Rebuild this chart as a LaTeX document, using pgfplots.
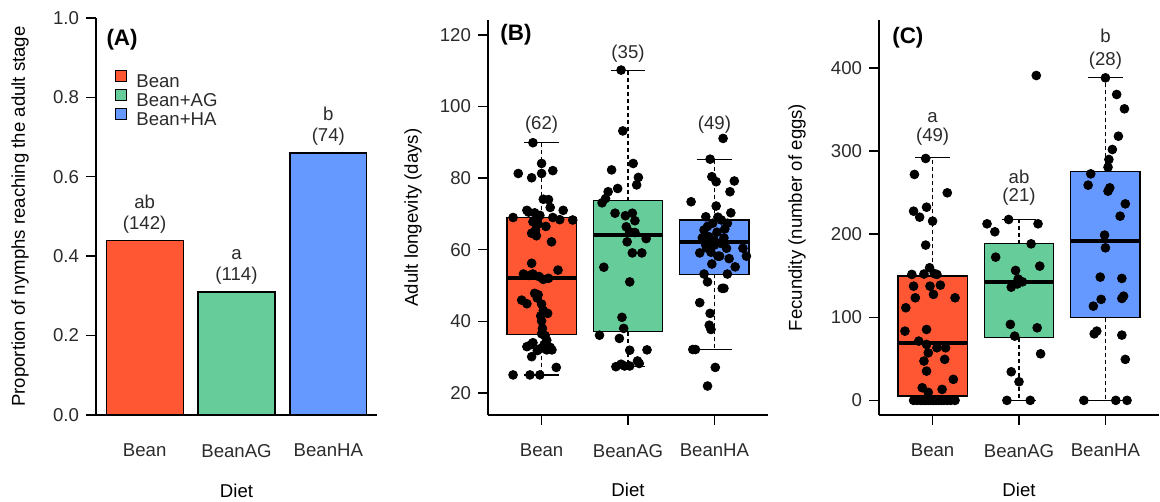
\documentclass[border=0pt]{standalone}
\usepackage{fontspec}
\setmainfont{Liberation Sans}
\usepackage{pgfplots}
\pgfplotsset{compat=1.18}
\usepgfplotslibrary{statistics}
\definecolor{cBean}{HTML}{FF5733}
\definecolor{cAG}{HTML}{66CC99}
\definecolor{cHA}{HTML}{6699FF}
\definecolor{txt}{HTML}{2B2B2B}
\pgfplotsset{
  rpanel/.style={
    scale only axis, width=140pt,
    axis x line=bottom, axis y line=left,
    axis line style={-, line width=0.7pt, black},
    tick align=outside, major tick length=5pt,
    every tick/.style={black, line width=0.7pt},
    font=\fontsize{9.3}{11}\selectfont,
    /pgf/number format/assume math mode=true,
    tick label style={text=txt},
    label style={text=txt},
    xmin=0.38, xmax=3.62,
    xtick={1,2,3}, xticklabels={Bean,BeanAG,BeanHA},
    xticklabel style={yshift=-6pt},
    xlabel={Diet},
    every axis x label/.style={at={(axis description cs:0.5,-0.19)}, anchor=center},
    clip=false,
    enlargelimits=false,
    boxplot/draw direction=y,
    boxplot/box extend=0.8,
    boxplot/whisker extend=0.4,
    boxplot/every median/.style={line width=2pt},
    boxplot/draw/lower whisker/.code={
      \draw[dash pattern=on 2pt off 1.5pt] (boxplot box cs:\pgfplotsboxplotvalue{lower quartile},0.5) -- (boxplot box cs:\pgfplotsboxplotvalue{lower whisker},0.5);
      \draw[solid] (boxplot whisker cs:\pgfplotsboxplotvalue{lower whisker},0) -- (boxplot whisker cs:\pgfplotsboxplotvalue{lower whisker},1);
    },
    boxplot/draw/upper whisker/.code={
      \draw[dash pattern=on 2pt off 1.5pt] (boxplot box cs:\pgfplotsboxplotvalue{upper quartile},0.5) -- (boxplot box cs:\pgfplotsboxplotvalue{upper whisker},0.5);
      \draw[solid] (boxplot whisker cs:\pgfplotsboxplotvalue{upper whisker},0) -- (boxplot whisker cs:\pgfplotsboxplotvalue{upper whisker},1);
    },
  },
  pts/.style={only marks, mark=*, mark size=2.2pt, mark options={fill=black, draw=black}},
  sq/.style={legend image code/.code={\draw[##1,draw=black,line width=0.5pt] (0pt,0.5pt) rectangle (5.5pt,6pt);}},
}
\begin{document}
\begin{tikzpicture}
\path[use as bounding box] (0,0) rectangle (580pt,251pt);

% ---------------- Panel A ----------------
\begin{axis}[rpanel, at={(48pt,43.5pt)}, anchor=south west,
  width=140.5pt, height=198.5pt,
  xmin=0.47, xmax=3.53, ymin=0, ymax=1,
  ytick={0,0.2,0.4,0.6,0.8,1},
  yticklabel style={/pgf/number format/.cd, fixed, fixed zerofill, precision=1},
  xtick style={draw=none},
  ylabel={Proportion of nymphs reaching the adult stage},
  every axis y label/.style={at={(axis description cs:-0.27,0.5)}, rotate=90, anchor=center},
  legend style={draw=none, fill=none, inner sep=0pt, at={(0.0676,0.8697)}, anchor=north west,
    row sep=-1.5pt,
    nodes={inner sep=0.5pt, text height=6.7pt, text depth=1.55pt, text=txt},
    /tikz/every odd column/.append style={column sep=4pt}},
  legend cell align=left]
\addplot[ybar, bar width=0.837, bar shift=0pt, fill=cBean, draw=black, line width=0.6pt, sq] coordinates {(1,0.44)};
\addlegendentry{Bean}
\addplot[ybar, bar width=0.837, bar shift=0pt, fill=cAG, draw=black, line width=0.6pt, sq] coordinates {(2,0.31)};
\addlegendentry{Bean+AG}
\addplot[ybar, bar width=0.837, bar shift=0pt, fill=cHA, draw=black, line width=0.6pt, sq] coordinates {(3,0.66)};
\addlegendentry{Bean+HA}
\node[anchor=base, yshift=5.5pt, text=txt] at (axis cs:1,0.44) {(142)};
\node[anchor=base, yshift=16pt, text=txt] at (axis cs:1,0.44) {ab};
\node[anchor=base, yshift=5.5pt, text=txt] at (axis cs:2,0.31) {(114)};
\node[anchor=base, yshift=16pt, text=txt] at (axis cs:2,0.31) {a};
\node[anchor=base, yshift=5.5pt, text=txt] at (axis cs:3,0.66) {(74)};
\node[anchor=base, yshift=16pt, text=txt] at (axis cs:3,0.66) {b};
\node[anchor=west, inner sep=0pt, font=\bfseries\fontsize{11.2}{13}\selectfont] at (rel axis cs:0.036,0.945) {(A)};
\end{axis}

% ---------------- Panel B ----------------
\begin{axis}[rpanel, at={(244pt,43.5pt)}, anchor=south west,
  height=197.5pt,
  ymin=13.8, ymax=124.2,
  ytick={20,40,60,80,100,120},
  ylabel={Adult longevity (days)},
  every axis y label/.style={at={(axis description cs:-0.268,0.5)}, rotate=90, anchor=center}]
\addplot[boxplot prepared={draw position=1, lower whisker=25, lower quartile=36.2, median=52.2, upper quartile=69.1, upper whisker=90}, fill=cBean, draw=black, line width=0.6pt] coordinates {};
\addplot[boxplot prepared={draw position=2, lower whisker=27.3, lower quartile=37.1, median=64.1, upper quartile=73.7, upper whisker=110}, fill=cAG, draw=black, line width=0.6pt] coordinates {};
\addplot[boxplot prepared={draw position=3, lower whisker=32.1, lower quartile=53.1, median=62.2, upper quartile=68.3, upper whisker=85.1}, fill=cHA, draw=black, line width=0.6pt] coordinates {};
\addplot[pts] coordinates {
(0.90,89.9) (1.00,84.1) (0.73,81.3) (0.885,80.1) (1.00,81.3) (1.13,82.1) (1.02,74.1) (1.08,74.0)
(1.10,71.8) (0.67,69.0) (0.83,71.0) (0.92,70.3) (0.98,69.6) (1.13,69.0) (1.25,71.0) (1.36,68.3)
(1.21,68.4) (0.90,67.8) (0.885,64.6) (0.94,63.9) (1.115,62.2) (0.885,56.2) (0.79,53.2) (0.90,53.2)
(1.02,51.7) (1.19,54.3) (0.92,47.8) (0.96,47.4) (0.77,45.9) (0.83,44.9) (1.00,44.8) (1.07,42.2)
(1.00,40.1) (1.01,38.0) (1.06,34.7) (0.90,34.0) (0.83,32.9) (1.10,32.7) (0.98,32.3) (0.885,30.1)
(1.17,27.1) (0.67,25.0) (0.865,25.0) (0.98,25.0)
(0.85,70.5) (0.95,68.5) (1.05,66.5) (0.93,65.5) (0.96,67.2) (0.86,52.8) (0.97,52.5) (1.08,52.0)
(0.95,46.5) (1.02,43.0) (0.99,41.5) (1.04,36.0) (1.03,33.5) (1.06,32.0) (1.12,32.0) (0.95,31.8)
(1.00,36.5) (0.88,33.5)
};
\addplot[pts] coordinates {
(1.92,110.2) (1.94,93.2) (2.06,84.1) (1.81,82.3) (2.12,80.2) (2.10,78.1) (1.88,77.1) (1.77,76.2)
(1.74,74.3) (1.70,73.1) (1.85,70.2) (2.05,70.2) (2.08,68.1) (1.98,66.4) (2.02,65.0) (2.08,64.8)
(1.99,62.2) (2.21,63.1) (2.05,59.1) (2.16,59.1) (1.72,55.1) (2.02,51.0) (1.93,41.1) (1.95,38.0)
(1.67,36.1) (1.90,35.2) (2.02,31.9) (2.22,32.0) (2.11,28.9) (1.92,28.0) (2.02,27.5) (2.13,28.2)
(1.96,27.5) (1.97,69.5) (1.86,27.3)
};
\addplot[pts] coordinates {
(3.10,91.1) (2.95,85.3) (2.97,80.4) (3.02,79.0) (3.23,79.2) (3.18,76.2) (2.73,73.4) (3.02,72.2)
(2.90,69.2) (3.04,69.1) (3.19,70.3) (2.98,67.4) (3.15,67.4) (2.88,65.5) (3.03,64.9) (2.94,63.6)
(2.86,63.3) (3.11,63.3) (2.90,61.3) (3.00,61.3) (3.33,60.4) (2.83,59.1) (2.96,59.3) (3.14,60.4)
(3.04,58.2) (3.06,58.2) (3.37,58.2) (3.24,55.2) (2.88,53.2) (2.92,51.0) (3.15,53.2) (3.09,49.2)
(3.11,49.2) (2.83,45.2) (2.95,42.2) (2.94,38.9) (2.96,37.7) (2.75,32.1) (2.78,32.1) (3.01,27.1)
(2.92,21.9) (3.08,68.3) (2.92,66.5) (3.12,65.8) (3.00,62.5) (2.91,60.5) (3.07,61.8) (3.17,57.5)
(2.97,56.0)
};
\node[anchor=base, text=txt] at (axis cs:1,93.7) {(62)};
\node[anchor=base, text=txt] at (axis cs:2,113.3) {(35)};
\node[anchor=base, text=txt] at (axis cs:3,93.7) {(49)};
\node[anchor=west, inner sep=0pt, font=\bfseries\fontsize{11.2}{13}\selectfont] at (rel axis cs:0.043,0.962) {(B)};
\end{axis}

% ---------------- Panel C ----------------
\begin{axis}[rpanel, at={(439.5pt,43.5pt)}, anchor=south west,
  height=197.5pt,
  ymin=-17.6, ymax=457.6,
  ytick={0,100,200,300,400},
  ylabel={Fecundity (number of eggs)},
  every axis y label/.style={at={(axis description cs:-0.293,0.5)}, rotate=90, anchor=center}]
\addplot[boxplot prepared={draw position=1, lower whisker=0, lower quartile=5.2, median=68.5, upper quartile=149.5, upper whisker=291.7}, fill=cBean, draw=black, line width=0.6pt] coordinates {};
\addplot[boxplot prepared={draw position=2, lower whisker=0, lower quartile=75.3, median=142.6, upper quartile=188.3, upper whisker=217.6}, fill=cAG, draw=black, line width=0.6pt] coordinates {};
\addplot[boxplot prepared={draw position=3, lower whisker=0, lower quartile=99.3, median=191.6, upper quartile=275.7, upper whisker=388}, fill=cHA, draw=black, line width=0.6pt] coordinates {};
\addplot[pts] coordinates {
(0.92,291.0) (0.79,271.8) (1.17,249.7) (0.78,227.6) (0.85,220.4) (0.93,232.4) (1.00,215.6) (0.92,186.8)
(0.965,159.5) (0.76,151.5) (0.90,152.0) (1.02,152.5) (1.05,151.5) (0.78,137.4) (0.97,137.4) (1.09,138.6)
(1.01,127.5) (0.80,123.4) (1.26,123.4) (0.69,111.4) (0.68,83.3) (0.93,85.3) (0.84,71.3) (0.93,67.3)
(1.05,63.3) (1.15,63.3) (0.95,57.2) (1.14,49.3) (0.90,47.3) (0.93,35.2) (1.24,25.3) (0.88,15.2)
(1.11,13.2) (0.95,9.6)
(0.78,0) (0.82,0) (0.86,0) (0.89,0) (0.92,0) (0.95,0) (0.98,0) (1.01,0) (1.04,0) (1.07,0)
(1.10,0) (1.13,0) (1.17,0) (1.21,0) (1.26,0)
};
\addplot[pts] coordinates {
(2.20,390.8) (1.88,217.6) (1.63,212.4) (1.72,202.8) (2.22,212.4) (2.14,188.3) (1.73,172.3) (2.24,161.5)
(1.96,156.3) (1.91,136.2) (2.04,142.6) (1.99,146.0) (1.90,91.4) (2.21,87.3) (1.95,77.3) (2.25,56.0)
(1.91,34.4) (2.00,22.4) (1.86,0) (2.13,0) (1.98,140.0)
};
\addplot[pts] coordinates {
(3.00,388.0) (3.13,368.0) (3.22,350.7) (3.15,317.8) (3.08,301.8) (3.04,289.8) (3.03,280.5) (2.83,272.5)
(2.80,258.9) (3.03,251.7) (3.05,255.7) (3.23,236.4) (3.17,221.6) (2.99,198.8) (3.00,183.5) (2.94,148.3)
(3.19,146.7) (2.95,121.5) (2.86,113.4) (3.21,125.4) (3.19,122.6) (2.90,83.3) (2.87,80.0) (3.19,78.5)
(3.23,49.3) (2.75,0) (3.12,0) (3.25,0)
};
\node[anchor=base, text=txt] at (axis cs:1,311.8) {(49)};
\node[anchor=base, text=txt] at (axis cs:1,334.7) {a};
\node[anchor=base, text=txt] at (axis cs:2,239.7) {(21)};
\node[anchor=base, text=txt] at (axis cs:2,261.3) {ab};
\node[anchor=base, text=txt] at (axis cs:3,403) {(28)};
\node[anchor=base, text=txt] at (axis cs:3,430) {b};
\node[anchor=west, inner sep=0pt, font=\bfseries\fontsize{11.2}{13}\selectfont] at (rel axis cs:0.046,0.954) {(C)};
\end{axis}
\end{tikzpicture}
\end{document}
